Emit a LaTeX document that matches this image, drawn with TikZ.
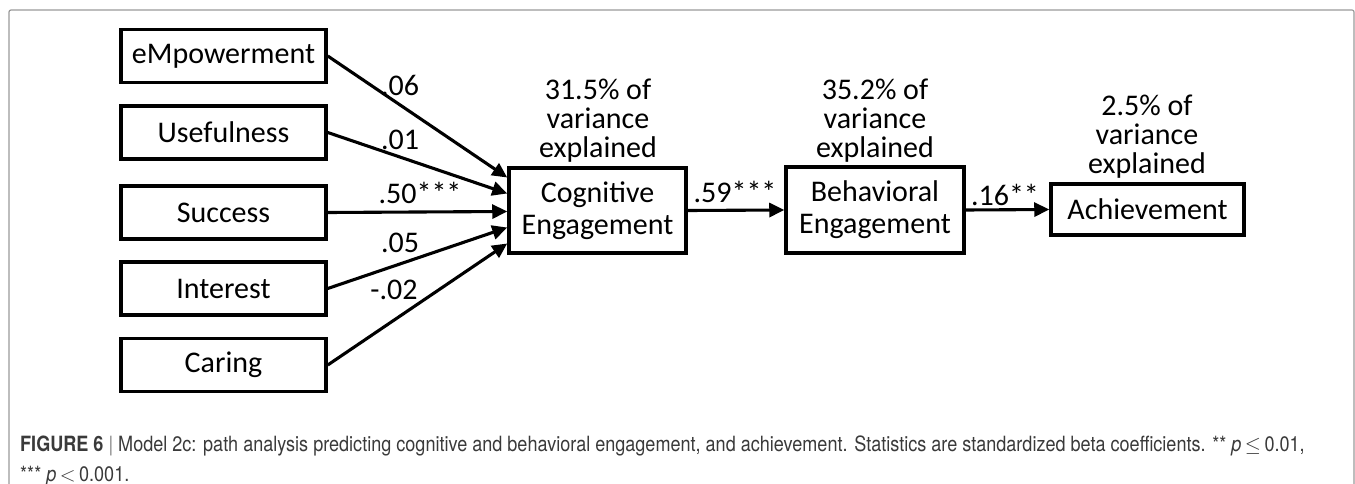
\documentclass[tikz,border=0pt]{standalone}
\usepackage{fontspec}
\setmainfont{Carlito}
\newfontfamily\capfont[FakeStretch=0.86]{TeX Gyre Heros}
\usetikzlibrary{arrows.meta}
\definecolor{captext}{HTML}{3A3A3A}

\begin{document}
\begin{tikzpicture}[x=1pt, y=-1pt,
  var/.style={draw, line width=3.5pt, minimum width=205pt, minimum height=53pt,
    inner sep=0pt, align=center, font=\fontsize{30}{32}\selectfont},
  effect/.style={line width=3.1pt, -{Triangle[length=15pt, width=14pt]}},
  coef/.style={inner sep=0pt, font=\fontsize{30}{30}\selectfont},
  note/.style={inner sep=0pt, align=center, font=\fontsize{30}{29}\selectfont},
  caption/.style={inner sep=0pt, align=left, text=captext,
    font=\capfont\fontsize{21}{30}\selectfont}]
  \clip (0,0) rectangle (1355,484);
  \draw[gray!80, line width=1.2pt, rounded corners=2pt] (9,520) -- (9,10) -- (1354,10) -- (1354,520);

  \node[var] (emp) at (223.5,56) {eMpowerment};
  \node[var] (use) at (223.5,132.5) {Usefulness};
  \node[var] (suc) at (223.5,212.5) {Success};
  \node[var] (int) at (223.5,288.5) {Interest};
  \node[var] (car) at (223.5,365) {Caring};

  \node[var, minimum width=177pt, minimum height=85pt] (cog) at (597.5,210.5) {Cognitive\\Engagement};
  \node[var, minimum width=178pt, minimum height=86pt] (beh) at (875,210) {Behavioral\\Engagement};
  \node[var, minimum width=193pt, minimum height=51pt] (ach) at (1147.5,209.5) {Achievement};

  \draw[effect] (emp.east) -- ([yshift=33pt]cog.west);
  \draw[effect] (use.east) -- ([yshift=17pt]cog.west);
  \draw[effect] (suc.east) -- ([yshift=-1pt]cog.west);
  \draw[effect] (int.east) -- ([yshift=-17pt]cog.west);
  \draw[effect] (car.east) -- ([yshift=-33pt]cog.west);
  \draw[effect] (cog.east) -- (beh.west);
  \draw[effect] (beh.east) -- (ach.west);

  \node[coef] (c1) at (400,85) {.06};
  \node[coef] (c2) at (400,140) {.01};
  \node[coef] (c3) at (420,193) {.50***};
  \node[coef] (c4) at (400,243) {.05};
  \node[coef] (c5) at (394,290) {-.02};
  \node[coef] (c6) at (735,192) {.59***};
  \node[coef] (c7) at (1005,195) {.16**};

  \node[note] (v1) at (598,121) {31.5\% of\\variance\\explained};
  \node[note] (v2) at (875,121) {35.2\% of\\variance\\explained};
  \node[note] (v3) at (1147,137) {2.5\% of\\variance\\explained};

  \node[caption, anchor=north west] (cap) at (20,436)
    {\textbf{FIGURE 6} {\color{gray}|} Model 2c: path analysis predicting cognitive and behavioral engagement, and achievement. Statistics are standardized beta coefficients. ** \textit{p}\,$\leq$\,0.01,\\
     *** \textit{p}\,$<$\,0.001.};
\end{tikzpicture}
\end{document}
